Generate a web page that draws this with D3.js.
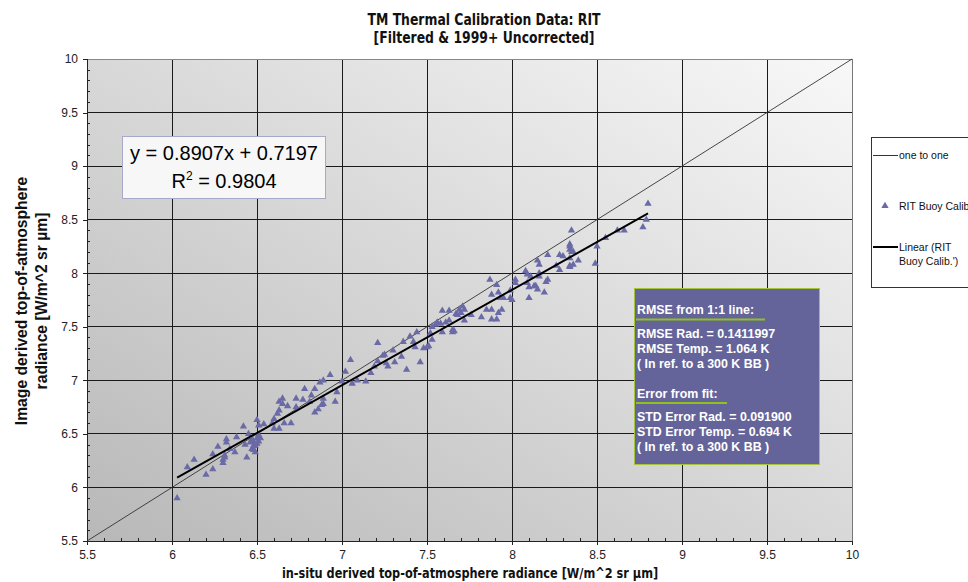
<!DOCTYPE html>
<html>
<head>
<meta charset="utf-8">
<script src="https://cdn.jsdelivr.net/npm/d3@7/dist/d3.min.js"></script>
<style>
  body { margin: 0; background: #ffffff; }
  svg { display: block; }
</style>
</head>
<body>
<svg id="chart" width="968" height="582"></svg>
<script>
// In-situ derived TOA radiance (x) and image derived TOA radiance (y), W/m^2 sr µm
const insituRadiance = [
  6.03, 6.09, 6.13, 6.20, 6.24, 6.24, 6.27, 6.30, 6.30, 6.31, 6.32, 6.32, 6.34, 6.37, 6.38,
  6.42, 6.43, 6.44, 6.45, 6.47, 6.48, 6.48, 6.50, 6.51, 6.49, 6.51, 6.48, 6.50, 6.51, 6.54,
  6.60, 6.60, 6.63, 6.62, 6.63, 6.66, 6.70, 6.63, 6.65, 6.65, 6.68, 6.73, 6.73, 6.77, 6.78,
  6.81, 6.82, 6.84, 6.84, 6.86, 6.87, 6.89, 6.89, 6.89, 6.93, 6.96, 6.97, 7.00, 7.02, 7.06,
  7.09, 6.47, 6.50, 6.52, 6.49, 6.46, 6.59, 6.88, 6.31,
  7.05, 7.14, 7.17, 7.21, 7.19, 7.21, 7.24, 7.25, 7.26, 7.27, 7.31, 7.30, 7.36, 7.35, 7.38,
  7.40, 7.42, 7.43, 7.46, 7.44, 7.48, 7.50, 7.51, 7.53, 7.52, 7.59, 7.65,
  7.55, 7.56, 7.53, 7.58, 7.61, 7.59, 7.63, 7.63, 7.65, 7.66, 7.67, 7.68, 7.69, 7.71, 7.70,
  7.72, 7.72, 7.76, 7.82, 7.85, 7.87, 7.88, 7.88, 7.88, 7.91, 7.91, 7.92, 7.92, 7.93, 7.94,
  7.95, 7.99, 8.00, 7.99, 8.02, 8.02, 8.08, 8.09, 8.09, 8.10, 8.10, 8.11, 8.13, 8.14, 8.15,
  8.16, 8.16, 8.15, 8.16, 8.19, 8.20, 8.21, 8.21, 8.26, 8.28, 8.28, 8.30, 8.34, 8.36, 8.34,
  8.35, 8.39, 8.49,
  8.80, 8.79, 8.77, 8.66, 8.62, 8.55, 8.50, 8.35, 8.34, 8.34, 8.34, 8.36, 8.34
];
const imageRadiance = [
  5.90, 6.19, 6.26, 6.12, 6.17, 6.31, 6.38, 6.23, 6.26, 6.28, 6.45, 6.42, 6.36, 6.33, 6.47,
  6.57, 6.40, 6.28, 6.50, 6.36, 6.39, 6.43, 6.46, 6.43, 6.39, 6.49, 6.35, 6.63, 6.58, 6.59,
  6.55, 6.64, 6.55, 6.69, 6.72, 6.60, 6.60, 6.80, 6.83, 6.78, 6.76, 6.83, 6.75, 6.82, 6.92,
  6.80, 6.86, 6.70, 6.92, 6.73, 6.98, 7.00, 6.83, 6.78, 7.05, 6.80, 6.89, 6.99, 7.08, 6.97,
  7.00, 6.45, 6.41, 6.46, 6.33, 6.42, 6.60, 6.77, 6.30,
  7.19, 6.99, 7.07, 7.35, 7.13, 7.18, 7.23, 7.24, 7.16, 7.13, 7.17, 7.28, 7.36, 7.22, 7.10,
  7.41, 7.36, 7.31, 7.17, 7.45, 7.30, 7.31, 7.32, 7.38, 7.44, 7.45, 7.45,
  7.52, 7.54, 7.50, 7.53, 7.54, 7.65, 7.65, 7.56, 7.47, 7.46, 7.62, 7.61, 7.66, 7.69, 7.63,
  7.56, 7.66, 7.61, 7.59, 7.66, 7.94, 7.57, 7.80, 7.66, 7.57, 7.89, 7.82, 7.63, 7.77, 7.66,
  7.77, 7.77, 7.75, 7.84, 7.91, 7.94, 8.02, 7.99, 7.91, 7.87, 7.77, 7.97, 7.88, 7.88, 7.85,
  8.00, 7.97, 8.12, 8.08, 7.82, 7.92, 7.94, 8.17, 8.07, 8.03, 8.17, 8.16, 8.06, 8.08, 8.14,
  8.20, 8.12, 8.09,
  8.65, 8.50, 8.43, 8.40, 8.40, 8.33, 8.25, 8.40, 8.27, 8.25, 8.22, 8.20, 8.07
];

const xTicks = [5.5, 6, 6.5, 7, 7.5, 8, 8.5, 9, 9.5, 10];
const yTicks = [5.5, 6, 6.5, 7, 7.5, 8, 8.5, 9, 9.5, 10];
const minorStep = 0.1;

// Least-squares fit reported for the buoy calibration points
const fitSlope = 0.8907;
const fitIntercept = 0.7197;
const fitR2 = 0.9804;

const titleLines = ["TM Thermal Calibration Data: RIT", "[Filtered & 1999+ Uncorrected]"];
const xTitle = "in-situ derived  top-of-atmosphere radiance [W/m^2 sr \u00b5m]";
const yTitleLines = ["Image derived top-of-atmosphere", "radiance [W/m^2 sr \u00b5m]"];

const rmseHeading = "RMSE from 1:1 line:";
const rmseLines = ["RMSE Rad. = 0.1411997", "RMSE Temp. = 1.064 K", "( In ref. to a 300 K BB )"];
const fitHeading = "Error from fit:";
const fitLines = ["STD Error Rad. = 0.091900", "STD Error Temp. = 0.694 K", "( In ref. to a 300 K BB )"];

const legendLabels = ["one to one", "RIT Buoy Calib", "Linear (RIT", "Buoy Calib.')"];

// ---------------------------------------------------------------------------
const svg = d3.select("#chart");
const plot = { left: 87, right: 852, top: 59, bottom: 541 };

const x = d3.scaleLinear().domain([5.5, 10]).range([plot.left, plot.right]);
const y = d3.scaleLinear().domain([5.5, 10]).range([plot.bottom, plot.top]);

const sans = "'Liberation Sans', Arial, Helvetica, sans-serif";
const condensed = "'DejaVu Sans Condensed', 'Liberation Sans', sans-serif";
const markColor = "#6a6aa6";

// condensed bold heading text, squeezed horizontally
function narrowText(parent, t, cx, cy, size, squeeze) {
  return parent.append("text")
    .attr("transform", `translate(${cx},${cy}) scale(${squeeze},1)`)
    .attr("text-anchor", "middle")
    .attr("font-family", condensed).attr("font-weight", "bold").attr("font-size", size)
    .attr("fill", "#111").text(t);
}

const defs = svg.append("defs");
const bg = defs.append("linearGradient").attr("id", "plotBg")
  .attr("x1", 0).attr("y1", 1).attr("x2", 1).attr("y2", 0);
bg.append("stop").attr("offset", 0).attr("stop-color", "#b8b8b8");
bg.append("stop").attr("offset", 1).attr("stop-color", "#f8f8f8");

const shadow = defs.append("filter").attr("id", "lineShadow")
  .attr("x", "-5%").attr("y", "-200%").attr("width", "110%").attr("height", "500%");
shadow.append("feGaussianBlur").attr("stdDeviation", 0.8);

// plot area
svg.append("rect")
  .attr("x", plot.left).attr("y", plot.top)
  .attr("width", plot.right - plot.left).attr("height", plot.bottom - plot.top)
  .attr("fill", "url(#plotBg)");

// major grid
const grid = svg.append("g").attr("stroke-width", 1).attr("shape-rendering", "crispEdges");
grid.selectAll("line.v").data(xTicks.slice(1)).join("line")
  .attr("x1", d => x(d)).attr("x2", d => x(d)).attr("y1", plot.top).attr("y2", plot.bottom)
  .attr("stroke", d => d === 10 ? "#777" : "#1a1a1a");
grid.selectAll("line.h").data(yTicks.slice(1)).join("line")
  .attr("y1", d => y(d)).attr("y2", d => y(d)).attr("x1", plot.left).attr("x2", plot.right)
  .attr("stroke", d => d === 10 ? "#888" : "#1a1a1a");

// minor tick positions
const minorX = d3.range(5.5, 10.0001, minorStep).map(v => +v.toFixed(2)).filter(v => !xTicks.includes(v));
const minorY = d3.range(5.5, 10.0001, minorStep).map(v => +v.toFixed(2)).filter(v => !yTicks.includes(v));

// axes
const fmt = d => String(d);
const xAxis = svg.append("g").attr("transform", `translate(0,${plot.bottom})`)
  .call(d3.axisBottom(x).tickValues(xTicks).tickFormat(fmt).tickSize(4).tickPadding(5));
const yAxis = svg.append("g").attr("transform", `translate(${plot.left},0)`)
  .call(d3.axisLeft(y).tickValues(yTicks).tickFormat(fmt).tickSize(4).tickPadding(5));
svg.append("g").attr("transform", `translate(0,${plot.bottom})`)
  .call(d3.axisBottom(x).tickValues(minorX).tickFormat("").tickSize(-3))
  .call(g => g.select(".domain").remove());
svg.append("g").attr("transform", `translate(${plot.left},0)`)
  .call(d3.axisLeft(y).tickValues(minorY).tickFormat("").tickSize(-3))
  .call(g => g.select(".domain").remove());

svg.selectAll(".tick line").attr("stroke", "#222").attr("shape-rendering", "crispEdges");
svg.selectAll(".domain").attr("stroke", "#222").attr("shape-rendering", "crispEdges");
[xAxis, yAxis].forEach(a => a.selectAll("text")
  .attr("font-family", sans).attr("font-size", 12).attr("fill", "#222"));

// one-to-one reference line
svg.append("line")
  .attr("x1", x(5.5)).attr("y1", y(5.5)).attr("x2", x(10)).attr("y2", y(10))
  .attr("stroke", "#333").attr("stroke-width", 0.9);

// buoy calibration points
const tri = d3.symbol().type(d3.symbolTriangle).size(23);
svg.append("g").selectAll("path")
  .data(d3.zip(insituRadiance, imageRadiance))
  .join("path")
  .attr("d", tri)
  .attr("transform", d => `translate(${x(d[0])},${y(d[1])})`)
  .attr("fill", markColor);

// linear fit across the range of the data
const xr = d3.extent(insituRadiance);
svg.append("line")
  .attr("x1", x(xr[0])).attr("y1", y(fitSlope * xr[0] + fitIntercept))
  .attr("x2", x(xr[1])).attr("y2", y(fitSlope * xr[1] + fitIntercept))
  .attr("stroke", "#000").attr("stroke-width", 2);

// fit equation box
const eq = svg.append("g");
eq.append("rect").attr("x", 122.5).attr("y", 136.5).attr("width", 203).attr("height", 62)
  .attr("fill", "#f7f7f8").attr("stroke", "#a8a8c8").attr("stroke-width", 1);
eq.append("text").attr("x", 224).attr("y", 160).attr("text-anchor", "middle")
  .attr("font-family", sans).attr("font-size", 20).attr("fill", "#000")
  .text(`y = ${fitSlope}x + ${fitIntercept}`);
const r2 = eq.append("text").attr("x", 224).attr("y", 188).attr("text-anchor", "middle")
  .attr("font-family", sans).attr("font-size", 20).attr("fill", "#000");
r2.append("tspan").text("R");
r2.append("tspan").attr("font-size", 12).attr("dy", -8).text("2");
r2.append("tspan").attr("dy", 8).text(` = ${fitR2}`);

// error statistics panel
const st = svg.append("g");
st.append("rect").attr("x", 634.5).attr("y", 288.5).attr("width", 185).attr("height", 176)
  .attr("fill", "#64649a").attr("stroke", "#a6c43c").attr("stroke-width", 1);
const stText = (t, yy) => st.append("text").attr("x", 637).attr("y", yy)
  .attr("font-family", sans).attr("font-weight", "bold").attr("font-size", 12.4)
  .attr("fill", "#ffffff").text(t);
const underline = (x2, yy) => {
  st.append("line").attr("x1", 636).attr("x2", x2).attr("y1", yy + 2).attr("y2", yy + 2)
    .attr("stroke", "#2a2a40").attr("stroke-width", 2).attr("filter", "url(#lineShadow)");
  st.append("line").attr("x1", 636).attr("x2", x2).attr("y1", yy).attr("y2", yy)
    .attr("stroke", "#8fc21c").attr("stroke-width", 2);
};
stText(rmseHeading, 314);
underline(765, 319.5);
rmseLines.forEach((t, i) => stText(t, 338 + i * 15));
stText(fitHeading, 397.5);
underline(727, 403);
fitLines.forEach((t, i) => stText(t, 420.5 + i * 15));

// legend
const lg = svg.append("g");
lg.append("rect").attr("x", 871.5).attr("y", 137.5).attr("width", 110).attr("height", 150)
  .attr("fill", "#ffffff").attr("stroke", "#333").attr("stroke-width", 1);
lg.append("line").attr("x1", 873).attr("x2", 898).attr("y1", 155.5).attr("y2", 155.5)
  .attr("stroke", "#333").attr("stroke-width", 1);
lg.append("path").attr("d", tri).attr("transform", "translate(885,206)").attr("fill", markColor);
lg.append("line").attr("x1", 873).attr("x2", 898).attr("y1", 247).attr("y2", 247)
  .attr("stroke", "#000").attr("stroke-width", 2);
const lgText = (t, yy) => lg.append("text").attr("x", 899).attr("y", yy)
  .attr("font-family", sans).attr("font-size", 10.5).attr("fill", "#111").text(t);
lgText(legendLabels[0], 159);
lgText(legendLabels[1], 210);
lgText(legendLabels[2], 251);
lgText(legendLabels[3], 265);

// titles
titleLines.forEach((t, i) => narrowText(svg, t, 484, 25 + i * 18, 15, 0.92));
narrowText(svg, xTitle, 470, 578, 14, 0.9);

yTitleLines.forEach((t, i) => svg.append("text")
  .attr("transform", `translate(${27 + i * 20},301) rotate(-90)`)
  .attr("text-anchor", "middle")
  .attr("font-family", sans).attr("font-weight", "bold").attr("font-size", 15.7)
  .attr("fill", "#111").text(t));
</script>
</body>
</html>
